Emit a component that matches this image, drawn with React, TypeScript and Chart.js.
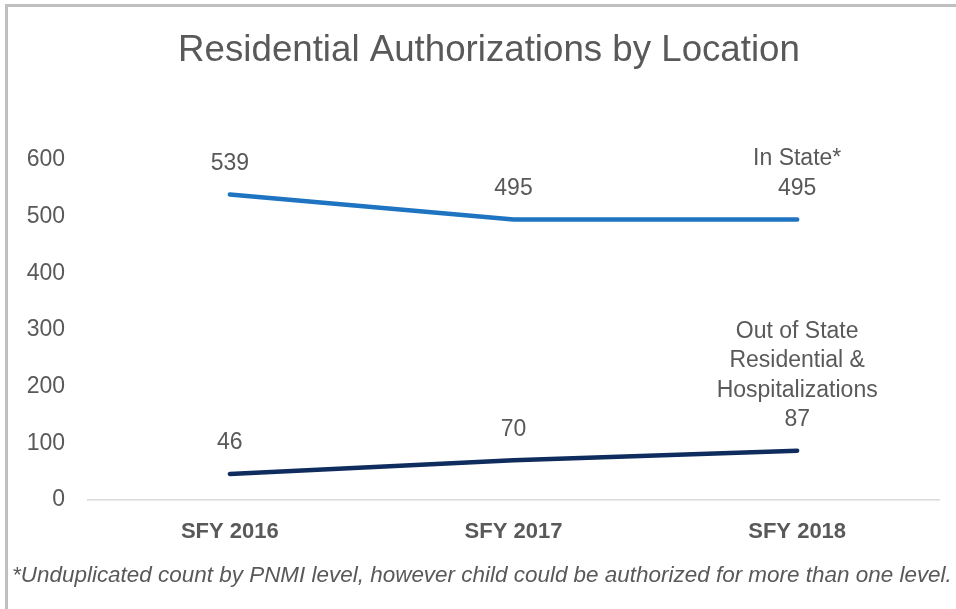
import React, { useEffect, useRef } from "react";
import { Chart, registerables } from "chart.js";

Chart.register(...registerables);

const categories = ["SFY 2016", "SFY 2017", "SFY 2018"];
const inStateValues = [539, 495, 495];
const outOfStateValues = [46, 70, 87];
const seriesNames = ["In State*", "Out of State\nResidential &\nHospitalizations"];
const yTicks = [0, 100, 200, 300, 400, 500, 600];
const titleText = "Residential Authorizations by Location";
const footnoteText =
  "*Unduplicated count by PNMI level, however child could be authorized for more than one level.";

const FONT = "'Liberation Sans', Arial, Helvetica, sans-serif";
const GRAY = "#595959";

const decorPlugin = {
  id: "decor",
  beforeDraw(chart: any) {
    const ctx = chart.ctx;
    ctx.save();
    ctx.fillStyle = "#ffffff";
    ctx.fillRect(0, 0, chart.width, chart.height);
    ctx.fillStyle = "#BFBFBF";
    ctx.fillRect(5, 4, 3, chart.height - 4);
    ctx.fillRect(5, 4, chart.width - 5, 3);
    ctx.restore();
  },
  afterDraw(chart: any) {
    const ctx = chart.ctx;
    ctx.save();
    ctx.fillStyle = GRAY;
    ctx.textAlign = "center";
    ctx.textBaseline = "middle";
    ctx.font = `36px ${FONT}`;
    const tw = ctx.measureText(titleText).width;
    const tsize = (36 * 622) / tw;
    ctx.font = `${tsize.toFixed(2)}px ${FONT}`;
    ctx.fillText(titleText, 489, 51);

    ctx.font = `italic 20px ${FONT}`;
    const w = ctx.measureText(footnoteText).width;
    const size = (20 * 940) / w;
    ctx.font = `italic ${size.toFixed(2)}px ${FONT}`;
    ctx.textAlign = "left";
    ctx.fillText(footnoteText, 12, 576);
    ctx.restore();
  },
  afterDatasetsDraw(chart: any) {
    const ctx = chart.ctx;
    ctx.save();
    ctx.fillStyle = GRAY;
    ctx.textAlign = "center";
    ctx.textBaseline = "middle";
    ctx.font = `23px ${FONT}`;
    chart.data.datasets.forEach((ds: any, di: number) => {
      const meta = chart.getDatasetMeta(di);
      meta.data.forEach((pt: any, i: number) => {
        const lines = [String(ds.data[i])];
        if (i === ds.data.length - 1) {
          lines.unshift(...seriesNames[di].split("\n"));
        }
        const lh = 29.5;
        for (let k = 0; k < lines.length; k++) {
          const y = pt.y - 31 - (lines.length - 1 - k) * lh;
          ctx.fillText(lines[k], pt.x, y);
        }
      });
    });
    ctx.restore();
  },
};

export default function App() {
  const ref = useRef<HTMLCanvasElement>(null);
  useEffect(() => {
    const canvas = ref.current;
    if (!canvas) return;
    const chart = new Chart(canvas, {
      type: "line",
      data: {
        labels: categories,
        datasets: [
          {
            label: seriesNames[0],
            data: inStateValues,
            borderColor: "#1F74C1",
            backgroundColor: "#1F74C1",
            borderWidth: 4.5,
            pointRadius: 0,
            tension: 0,
            borderCapStyle: "round",
          },
          {
            label: seriesNames[1],
            data: outOfStateValues,
            borderColor: "#0E2D5E",
            backgroundColor: "#0E2D5E",
            borderWidth: 4.5,
            pointRadius: 0,
            tension: 0,
            borderCapStyle: "round",
          },
        ],
      },
      options: {
        responsive: false,
        animation: false,
        layout: { padding: { top: 160, left: 0, right: 17, bottom: 0 } },
        plugins: {
          legend: { display: false },
          title: { display: false },
          tooltip: { enabled: false },
        },
        scales: {
          x: {
            offset: true,
            grid: { display: false, drawTicks: false },
            border: { display: true, color: "#D9D9D9", width: 1.5 },
            ticks: {
              color: GRAY,
              padding: 19,
              font: { family: FONT, size: 22, weight: "bold" },
            },
            afterFit(scale: any) {
              scale.height = 109;
            },
          },
          y: {
            min: yTicks[0],
            max: yTicks[yTicks.length - 1],
            grid: { display: false, drawTicks: false },
            border: { display: false },
            ticks: {
              stepSize: 100,
              color: GRAY,
              padding: 23,
              font: { family: FONT, size: 23 },
            },
            afterFit(scale: any) {
              scale.width = 88;
            },
          },
        },
      },
      plugins: [decorPlugin],
    } as any);
    return () => chart.destroy();
  }, []);
  return (
    <div style={{ position: "absolute", left: 0, top: 0, width: 956, height: 609, background: "#fff" }}>
      <canvas ref={ref} width={956} height={609} style={{ display: "block", width: 956, height: 609 }} />
    </div>
  );
}
